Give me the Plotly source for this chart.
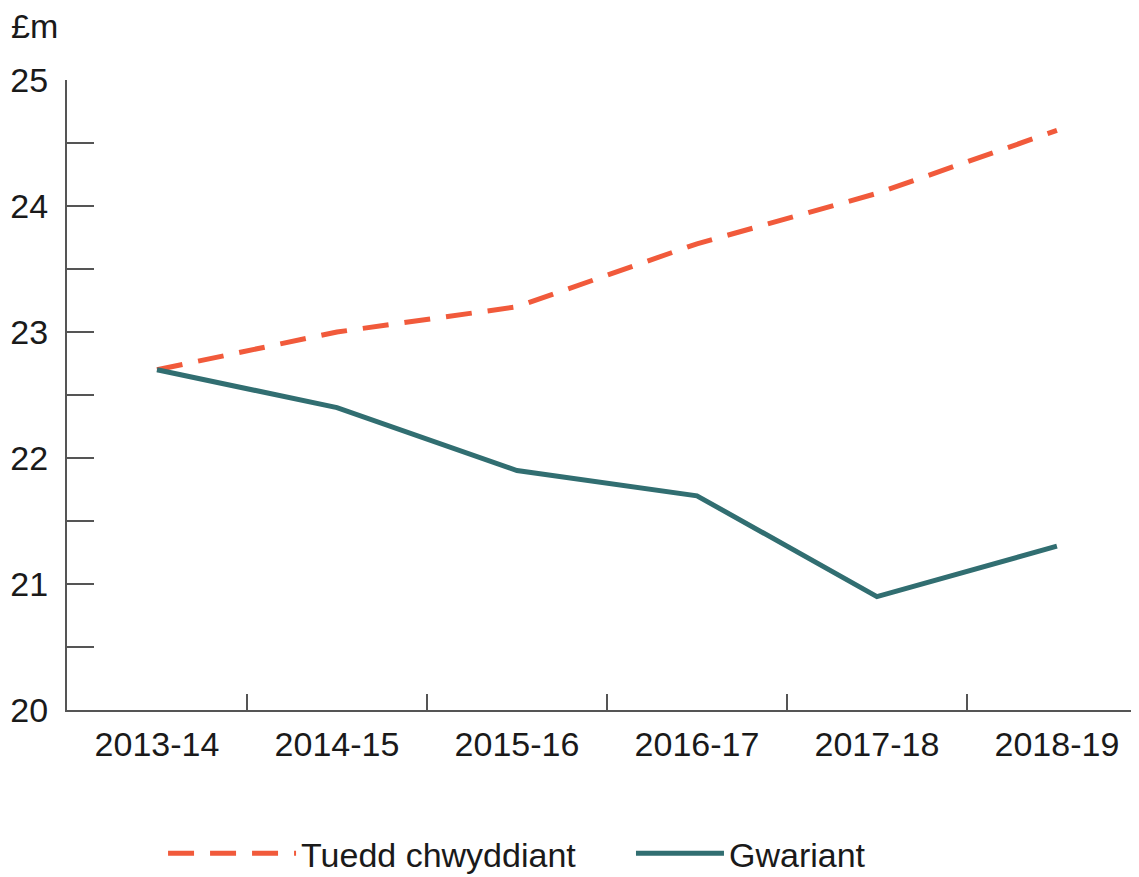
import plotly.graph_objects as go

years = ["2013-14", "2014-15", "2015-16", "2016-17", "2017-18", "2018-19"]
tuedd = [22.7, 23.0, 23.2, 23.7, 24.1, 24.6]
gwariant = [22.7, 22.4, 21.9, 21.7, 20.9, 21.3]

ORANGE = "#F15A3B"
TEAL = "#316E71"
AXIS = "#555555"
FONT = "Liberation Sans, Arial, sans-serif"

fig = go.Figure()
fig.add_trace(go.Scatter(x=years, y=tuedd, mode="lines", name="Tuedd chwyddiant",
                         legend="legend",
                         line=dict(color=ORANGE, width=5, dash="26px,16px")))
fig.add_trace(go.Scatter(x=years, y=gwariant, mode="lines", name="Gwariant",
                         legend="legend2",
                         line=dict(color=TEAL, width=5)))

# page body has an 8px margin, so the figure is made 8px smaller each way
fig.update_layout(
    width=1131, height=869,
    margin=dict(l=59, r=0, t=72, b=167, autoexpand=False),
    paper_bgcolor="white", plot_bgcolor="white",
    font=dict(family=FONT, size=34, color="#1a1a1a"),
    showlegend=True,
    legend=dict(orientation="h", x=0.0896, xanchor="left", y=-0.228, yanchor="middle",
                itemwidth=128, font=dict(size=34)),
    legend2=dict(orientation="h", x=0.5261, xanchor="left", y=-0.228, yanchor="middle",
                 itemwidth=88, font=dict(size=34)),
    hovermode=False,
)
fig.update_xaxes(
    type="category", range=[-0.5, 5.456], automargin=False,
    showline=True, linecolor=AXIS, linewidth=2,
    showgrid=False, zeroline=False,
    ticks="inside", tickson="boundaries", ticklen=16, tickcolor=AXIS, tickwidth=2,
    ticklabelstandoff=3,
)
fig.update_yaxes(
    range=[20, 25], dtick=1, tick0=20, automargin=False,
    showline=True, linecolor=AXIS, linewidth=2,
    showgrid=False, zeroline=False,
    ticks="inside", ticklen=27, tickcolor=AXIS, tickwidth=2,
    minor=dict(dtick=0.5, ticks="inside", ticklen=27, tickcolor=AXIS, tickwidth=2, showgrid=False),
    ticklabelstandoff=10,
)
fig.add_annotation(text="£m", xref="paper", yref="paper", x=0, y=1,
                   xanchor="left", yanchor="bottom", xshift=-57, yshift=34,
                   borderpad=0, showarrow=False, font=dict(size=34))

fig.write_html("out.html")
